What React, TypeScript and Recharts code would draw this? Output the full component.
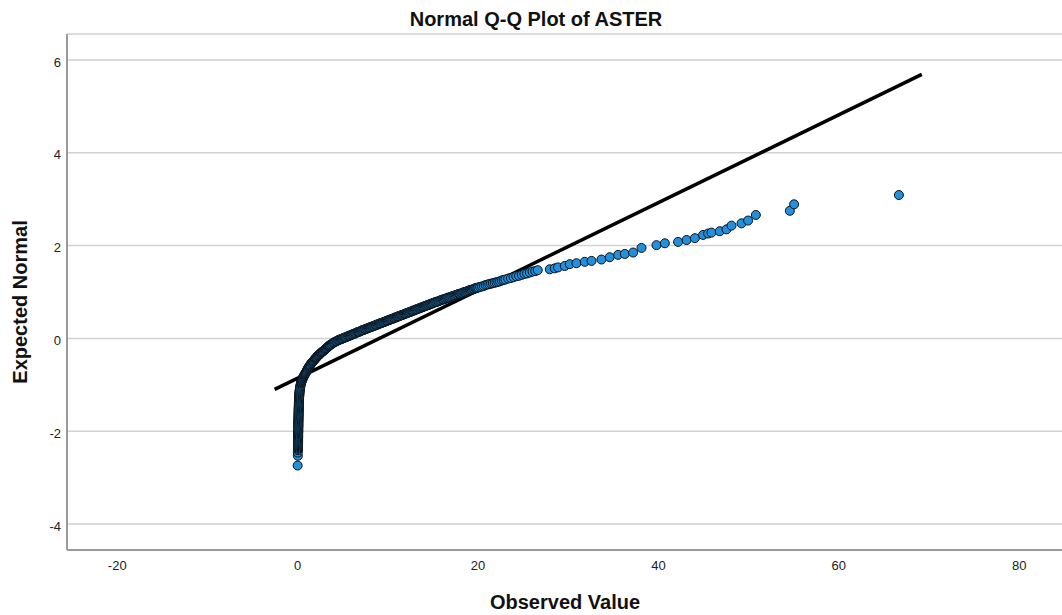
import { ScatterChart, Scatter, XAxis, YAxis, CartesianGrid } from 'recharts';

// near-zero values: the tall stack at the bottom left
const lowTail: [number, number][] = [
  [0.00, -2.74], [0.02, -2.53], [0.02, -2.46], [0.03, -2.41],
  [0.03, -2.38], [0.03, -2.36], [0.04, -2.34], [0.04, -2.32], [0.04, -2.30],
  [0.04, -2.28], [0.05, -2.26], [0.05, -2.24], [0.05, -2.22], [0.05, -2.20],
  [0.05, -2.18], [0.05, -2.16], [0.06, -2.14], [0.06, -2.12], [0.06, -2.10],
  [0.06, -2.08], [0.06, -2.06], [0.06, -2.04], [0.07, -2.02], [0.07, -2.00],
  [0.07, -1.98], [0.07, -1.96], [0.07, -1.94], [0.07, -1.92], [0.08, -1.90],
  [0.08, -1.88], [0.08, -1.86], [0.08, -1.84], [0.08, -1.82], [0.08, -1.80],
  [0.09, -1.78], [0.09, -1.76], [0.09, -1.74], [0.09, -1.72], [0.10, -1.70],
  [0.10, -1.68], [0.10, -1.66], [0.10, -1.64], [0.10, -1.62], [0.11, -1.60],
  [0.11, -1.58], [0.11, -1.56], [0.11, -1.54], [0.12, -1.52], [0.12, -1.50],
  [0.12, -1.48], [0.13, -1.46], [0.13, -1.44], [0.13, -1.42], [0.14, -1.40],
  [0.14, -1.38], [0.14, -1.36], [0.15, -1.34], [0.15, -1.32], [0.16, -1.30],
  [0.16, -1.28], [0.17, -1.26], [0.18, -1.24], [0.18, -1.22], [0.19, -1.20],
  [0.20, -1.18], [0.21, -1.16], [0.22, -1.14], [0.23, -1.12], [0.24, -1.10],
  [0.26, -1.08], [0.27, -1.06], [0.29, -1.04], [0.31, -1.02], [0.33, -1.00],
];

// the bend where the stack turns right
const bend: [number, number][] = [
  [0.36, -0.975], [0.38, -0.96], [0.40, -0.945], [0.43, -0.93], [0.46, -0.915],
  [0.49, -0.90], [0.52, -0.885], [0.55, -0.87], [0.58, -0.855], [0.62, -0.84],
  [0.66, -0.825], [0.70, -0.81], [0.74, -0.795], [0.78, -0.78], [0.82, -0.765],
  [0.87, -0.75], [0.91, -0.735], [0.96, -0.72], [1.00, -0.705], [1.04, -0.69],
  [1.08, -0.675], [1.11, -0.66], [1.15, -0.645], [1.20, -0.63], [1.25, -0.615],
  [1.30, -0.60], [1.35, -0.585], [1.40, -0.57], [1.45, -0.555], [1.51, -0.54],
  [1.56, -0.53], [1.62, -0.52], [1.68, -0.505], [1.74, -0.49], [1.80, -0.475],
  [1.86, -0.46], [1.92, -0.445], [1.98, -0.43], [2.04, -0.42], [2.10, -0.41],
  [2.16, -0.395], [2.22, -0.38], [2.27, -0.37], [2.33, -0.36], [2.40, -0.35],
  [2.46, -0.34], [2.52, -0.325], [2.59, -0.31], [2.65, -0.30], [2.72, -0.29],
  [2.79, -0.28], [2.86, -0.27], [2.93, -0.26], [3.00, -0.25], [3.07, -0.235],
  [3.14, -0.22], [3.21, -0.21], [3.28, -0.20], [3.35, -0.185], [3.42, -0.17],
  [3.48, -0.16], [3.55, -0.15],
];

// main body of the sample
const body: [number, number][] = [
  [3.6, -0.14], [3.7, -0.13], [3.8, -0.12], [3.9, -0.10], [4.0, -0.09],
  [4.1, -0.08], [4.2, -0.07], [4.3, -0.06], [4.4, -0.05], [4.5, -0.04],
  [4.6, -0.03], [4.7, -0.02], [4.8, -0.02], [4.9, -0.01], [5.0, 0.00],
  [5.1, 0.01], [5.2, 0.02], [5.3, 0.02], [5.4, 0.03], [5.5, 0.04],
  [5.6, 0.05], [5.7, 0.06], [5.8, 0.06], [5.9, 0.07], [6.0, 0.08],
  [6.1, 0.09], [6.2, 0.10], [6.3, 0.10], [6.4, 0.11], [6.5, 0.12],
  [6.6, 0.13], [6.7, 0.14], [6.8, 0.14], [6.9, 0.15], [7.0, 0.16],
  [7.1, 0.17], [7.2, 0.18], [7.3, 0.18], [7.4, 0.19], [7.5, 0.20],
  [7.6, 0.21], [7.7, 0.21], [7.8, 0.22], [7.9, 0.23], [8.0, 0.24],
  [8.1, 0.24], [8.2, 0.25], [8.3, 0.26], [8.4, 0.27], [8.5, 0.27],
  [8.6, 0.28], [8.7, 0.29], [8.8, 0.30], [8.9, 0.30], [9.0, 0.31],
  [9.1, 0.32], [9.2, 0.33], [9.3, 0.33], [9.4, 0.34], [9.5, 0.35],
  [9.6, 0.36], [9.7, 0.36], [9.8, 0.37], [9.9, 0.38], [10.0, 0.39],
  [10.1, 0.39], [10.2, 0.40], [10.3, 0.41], [10.4, 0.42], [10.5, 0.42],
  [10.6, 0.43], [10.7, 0.44], [10.8, 0.45], [10.9, 0.45], [11.0, 0.46],
  [11.1, 0.47], [11.2, 0.48], [11.3, 0.48], [11.4, 0.49], [11.5, 0.50],
  [11.6, 0.51], [11.7, 0.51], [11.8, 0.52], [11.9, 0.53], [12.0, 0.54],
  [12.1, 0.54], [12.2, 0.55], [12.3, 0.56], [12.4, 0.57], [12.5, 0.57],
  [12.6, 0.58], [12.7, 0.59], [12.8, 0.60], [12.9, 0.60], [13.0, 0.61],
  [13.1, 0.62], [13.2, 0.63], [13.3, 0.63], [13.4, 0.64], [13.5, 0.65],
  [13.6, 0.66], [13.7, 0.66], [13.8, 0.67], [13.9, 0.68], [14.0, 0.69],
  [14.1, 0.69], [14.2, 0.70], [14.3, 0.71], [14.4, 0.72], [14.5, 0.72],
  [14.6, 0.73], [14.7, 0.74], [14.8, 0.75], [14.9, 0.75], [15.0, 0.76],
  [15.12, 0.77], [15.24, 0.78], [15.36, 0.79], [15.48, 0.79], [15.60, 0.80],
  [15.72, 0.81], [15.84, 0.82], [15.96, 0.83], [16.08, 0.84], [16.20, 0.84],
  [16.32, 0.85], [16.44, 0.86], [16.56, 0.87], [16.68, 0.88], [16.80, 0.88],
  [16.92, 0.89], [17.04, 0.90], [17.16, 0.91], [17.28, 0.92], [17.40, 0.92],
  [17.52, 0.93], [17.64, 0.94], [17.76, 0.95], [17.88, 0.96], [18.00, 0.96],
  [18.12, 0.97], [18.24, 0.98], [18.36, 0.99], [18.48, 1.00], [18.60, 1.00],
  [18.72, 1.01], [18.84, 1.02], [18.96, 1.03], [19.08, 1.04], [19.20, 1.04],
  [19.32, 1.05], [19.44, 1.06], [19.56, 1.07], [19.68, 1.08], [19.80, 1.08],
  [19.92, 1.09], [20.04, 1.10],
  [20.24, 1.11], [20.44, 1.12], [20.64, 1.13], [20.84, 1.15], [21.04, 1.16],
  [21.24, 1.17], [21.44, 1.18], [21.64, 1.19], [21.84, 1.20], [22.04, 1.21],
  [22.24, 1.22], [22.44, 1.23], [22.64, 1.25], [22.84, 1.26], [23.04, 1.27],
  [23.34, 1.29], [23.64, 1.30], [23.94, 1.32], [24.24, 1.34], [24.54, 1.35],
  [24.84, 1.37], [25.14, 1.39], [25.44, 1.40], [25.74, 1.42], [26.04, 1.44],
  [26.34, 1.45],
];

// sparse upper tail, individually visible dots
const upperTail: [number, number][] = [
  [26.62, 1.47], [27.95, 1.49], [28.50, 1.51], [28.87, 1.53], [29.61, 1.56],
  [30.17, 1.60], [30.91, 1.62], [31.83, 1.65], [32.58, 1.67], [33.68, 1.70],
  [34.60, 1.75], [35.53, 1.80], [36.27, 1.82], [37.19, 1.85], [38.12, 1.95],
  [39.78, 2.01], [40.71, 2.05], [42.18, 2.08], [43.12, 2.12], [44.04, 2.16],
  [44.95, 2.23], [45.51, 2.26], [45.88, 2.28], [46.80, 2.31], [47.55, 2.35],
  [48.10, 2.43], [49.21, 2.48], [49.94, 2.54], [50.80, 2.66], [54.57, 2.75],
  [55.04, 2.89], [66.66, 3.09],
];

// straight reference line end points
const fitLine: [number, number][] = [[-2.55, -1.10], [69.2, 5.69]];

const xTicks = [-20, 0, 20, 40, 60, 80];
const yTicks = [-4, -2, 0, 2, 4, 6];

const toPoints = (rows: [number, number][]) => rows.map(([x, y]) => ({ x, y }));
const points = toPoints([...lowTail, ...bend, ...body, ...upperTail]);

const FONT = '"Liberation Sans", Arial, sans-serif';

function Dot({ cx, cy }: any) {
  if (cx == null || cy == null) return null;
  return <circle cx={cx} cy={cy} r={4.5} fill="#2290DC" stroke="#0A1118" strokeWidth={1} />;
}

function NoDot() {
  return <g />;
}

export default function App() {
  return (
    <div style={{ position: 'absolute', left: 0, top: 0, width: 1062, height: 615, background: '#fff', fontFamily: FONT }}>
      <div style={{ position: 'absolute', left: 536, top: 7, transform: 'translateX(-50%)', fontSize: 20, fontWeight: 700, color: '#111', whiteSpace: 'nowrap', lineHeight: '24px' }}>
        Normal Q-Q Plot of ASTER
      </div>

      <ScatterChart width={1062} height={615} margin={{ top: 34, right: 0, bottom: 0, left: 0 }}>
        <CartesianGrid vertical={false} stroke="#D2D2D2" strokeWidth={1.5} />
        <XAxis
          type="number"
          dataKey="x"
          domain={[-25.57, 84.74]}
          ticks={xTicks}
          allowDataOverflow
          height={65}
          axisLine={{ stroke: '#9A9A9A', strokeWidth: 2 }}
          tickLine={false}
          tickSize={0}
          tickMargin={11}
          tick={{ fill: '#222', fontSize: 13, fontFamily: FONT }}
        />
        <YAxis
          type="number"
          dataKey="y"
          domain={[-4.56, 6.56]}
          ticks={yTicks}
          allowDataOverflow
          width={67}
          axisLine={{ stroke: '#9A9A9A', strokeWidth: 2 }}
          tickLine={false}
          tickSize={0}
          tickMargin={6}
          tick={{ fill: '#222', fontSize: 13, fontFamily: FONT, dy: 2 }}
        />
        <Scatter
          data={toPoints(fitLine)}
          line={{ stroke: '#000', strokeWidth: 3.5 }}
          shape={NoDot}
          isAnimationActive={false}
        />
        <Scatter data={points} shape={Dot} isAnimationActive={false} />
      </ScatterChart>

      <div style={{ position: 'absolute', left: 565, top: 590, transform: 'translateX(-50%)', fontSize: 20, fontWeight: 700, color: '#111', whiteSpace: 'nowrap', lineHeight: '24px' }}>
        Observed Value
      </div>
      <div style={{ position: 'absolute', left: 20, top: 302, transform: 'translate(-50%, -50%) rotate(-90deg)', fontSize: 20, fontWeight: 700, color: '#111', whiteSpace: 'nowrap', lineHeight: '24px' }}>
        Expected Normal
      </div>
    </div>
  );
}
